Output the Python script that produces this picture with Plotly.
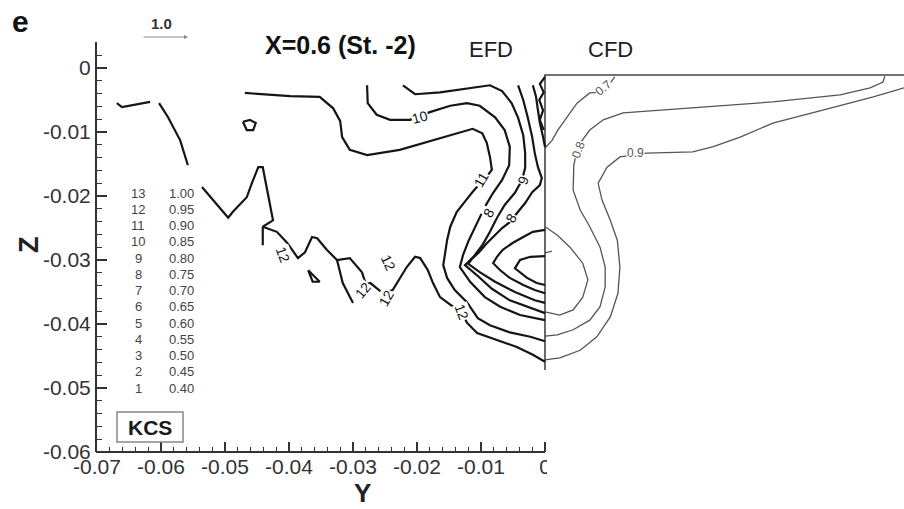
import plotly.graph_objects as go

# ---------------- data (Y, Z in metres) ----------------
# EFD contour polylines
efd_a_y = [-0.0669, -0.0661, -0.0617]
efd_a_z = [-0.0055, -0.0061, -0.0053]
efd_b_y = [-0.0603, -0.0589, -0.0570, -0.0558]
efd_b_z = [-0.0055, -0.0077, -0.0113, -0.0152]
efd_loop_y = [-0.0472, -0.0466, -0.0456, -0.0452, -0.0461, -0.0472]
efd_loop_z = [-0.0084, -0.0097, -0.0097, -0.0086, -0.0081, -0.0084]
efd_11_y = [-0.0469, -0.0398, -0.0352, -0.0331, -0.0320, -0.0317, -0.0305, -0.0278, -0.0227, -0.0175,
            -0.0113, -0.0098, -0.0091, -0.0086, -0.0083, -0.0089, -0.0111, -0.0123, -0.0138, -0.0148,
            -0.0153, -0.0156, -0.0159, -0.0153, -0.0141, -0.0122, -0.0114, -0.0105, -0.0086, -0.0055,
            -0.0023, 0.0]
efd_11_z = [-0.0039, -0.0044, -0.0045, -0.0063, -0.0083, -0.0108, -0.0128, -0.0136, -0.0128, -0.0113,
            -0.0095, -0.0102, -0.0117, -0.0139, -0.0159, -0.0167, -0.0191, -0.0206, -0.0225, -0.0248,
            -0.0269, -0.0289, -0.0308, -0.0328, -0.0347, -0.0366, -0.0378, -0.0391, -0.0402, -0.0413,
            -0.0420, -0.0427]
efd_10_y = [-0.0278, -0.0277, -0.0263, -0.0242, -0.0211, -0.0180, -0.0148, -0.0122, -0.0102, -0.0078,
            -0.0063, -0.0055, -0.0056, -0.0067, -0.0081, -0.0094, -0.0106, -0.0119, -0.0128, -0.0133,
            -0.0117, -0.0094, -0.0070, -0.0039, 0.0]
efd_10_z = [-0.0027, -0.0055, -0.0073, -0.0081, -0.0081, -0.0069, -0.0059, -0.0055, -0.0059, -0.0077,
            -0.0097, -0.0123, -0.0152, -0.0175, -0.0195, -0.0217, -0.0242, -0.0269, -0.0292, -0.0311,
            -0.0334, -0.0358, -0.0373, -0.0386, -0.0394]
efd_9_y = [-0.0222, -0.0203, -0.0164, -0.0128, -0.0086, -0.0067, -0.0052, -0.0042, -0.0034, -0.0031,
           -0.0031, -0.0036, -0.0047, -0.0063, -0.0075, -0.0086, -0.0098, -0.0111, -0.0125, -0.0105,
           -0.0083, -0.0055, -0.0023, 0.0]
efd_9_z = [-0.0027, -0.0041, -0.0038, -0.0033, -0.0027, -0.0036, -0.0055, -0.0078, -0.0105, -0.0133,
           -0.0156, -0.0175, -0.0195, -0.0214, -0.0234, -0.0256, -0.0277, -0.0294, -0.0308, -0.0325,
           -0.0345, -0.0363, -0.0375, -0.0383]
efd_8_y = [-0.0042, -0.0034, -0.0027, -0.0020, -0.0016, -0.0011, -0.0005, -0.0008, -0.0020, -0.0031,
           -0.0044, -0.0055, -0.0067, -0.0080, -0.0092, -0.0103, -0.0114, -0.0120, -0.0102, -0.0078,
           -0.0047, -0.0016, 0.0]
efd_8_z = [-0.0027, -0.0050, -0.0077, -0.0108, -0.0133, -0.0155, -0.0172, -0.0183, -0.0194, -0.0211,
           -0.0227, -0.0241, -0.0250, -0.0263, -0.0275, -0.0288, -0.0298, -0.0306, -0.0319, -0.0334,
           -0.0350, -0.0363, -0.0367]
efd_7_y = [-0.0019, -0.0014, -0.0011, -0.0008, -0.0003, 0.0]
efd_7_z = [-0.0027, -0.0045, -0.0066, -0.0086, -0.0108, -0.0123]
efd_wall_y = [0.0, -0.0008, -0.0002, -0.0009, -0.0003, -0.0008, -0.0002]
efd_wall_z = [-0.0014, -0.0025, -0.0038, -0.0050, -0.0066, -0.0081, -0.0097]
efd_core1_y = [0.0, -0.0019, -0.0034, -0.0050, -0.0066, -0.0075, -0.0081, -0.0070, -0.0055, -0.0034, -0.0016, 0.0]
efd_core1_z = [-0.0253, -0.0256, -0.0264, -0.0273, -0.0284, -0.0295, -0.0305, -0.0316, -0.0328, -0.0339, -0.0347, -0.0352]
efd_core2_y = [0.0, -0.0023, -0.0039, -0.0047, -0.0028, -0.0013, 0.0]
efd_core2_z = [-0.0294, -0.0295, -0.0300, -0.0313, -0.0328, -0.0336, -0.0339]
efd_12a_y = [-0.0536, -0.0495, -0.0488, -0.0466, -0.0458, -0.0448, -0.0441, -0.0433, -0.0425, -0.0441,
             -0.0419, -0.0403, -0.0386, -0.0375, -0.0364, -0.0356, -0.0341, -0.0325, -0.0305, -0.0286]
efd_12a_z = [-0.0186, -0.0234, -0.0225, -0.0202, -0.0180, -0.0155, -0.0155, -0.0195, -0.0238, -0.0248,
             -0.0256, -0.0273, -0.0297, -0.0288, -0.0264, -0.0266, -0.0284, -0.0300, -0.0297, -0.0319]
efd_12b_y = [-0.0286, -0.0280, -0.0273, -0.0253, -0.0238, -0.0227, -0.0216, -0.0203, -0.0195, -0.0183,
             -0.0175, -0.0164, -0.0152, -0.0141, -0.0130, -0.0122, -0.0106, -0.0075, -0.0044, -0.0019, 0.0]
efd_12b_z = [-0.0319, -0.0338, -0.0336, -0.0352, -0.0347, -0.0328, -0.0311, -0.0295, -0.0297, -0.0316,
             -0.0336, -0.0358, -0.0367, -0.0375, -0.0381, -0.0398, -0.0414, -0.0425, -0.0436, -0.0448, -0.0459]
efd_12c_y = [-0.0441, -0.0441]
efd_12c_z = [-0.0248, -0.0277]
efd_12d_y = [-0.0325, -0.0316, -0.0300]
efd_12d_z = [-0.0300, -0.0336, -0.0367]
efd_tri_y = [-0.0370, -0.0363, -0.0352, -0.0370]
efd_tri_z = [-0.0316, -0.0334, -0.0334, -0.0316]

# CFD contour polylines
cfd_07_y = [0.0109, 0.0097, 0.0086, 0.0070, 0.0050, 0.0034, 0.0020, 0.0011, 0.0003, 0.0]
cfd_07_z = [-0.0014, -0.0030, -0.0038, -0.0039, -0.0055, -0.0077, -0.0097, -0.0113, -0.0123, -0.0125]
cfd_08_y = [0.0531, 0.0528, 0.0508, 0.0461, 0.0356, 0.0253, 0.0175, 0.0122, 0.0091, 0.0070, 0.0055, 0.0050,
            0.0045, 0.0044, 0.0055, 0.0070, 0.0086, 0.0094, 0.0094, 0.0086, 0.0070, 0.0044, 0.0019, 0.0]
cfd_08_z = [-0.0013, -0.0022, -0.0031, -0.0042, -0.0053, -0.0061, -0.0066, -0.0070, -0.0081, -0.0097, -0.0117,
            -0.0128, -0.0152, -0.0191, -0.0222, -0.0248, -0.0280, -0.0311, -0.0342, -0.0373, -0.0394, -0.0409,
            -0.0417, -0.0419]
cfd_09_y = [0.0561, 0.0513, 0.0434, 0.0356, 0.0305, 0.0263, 0.0231, 0.0159, 0.0117, 0.0097, 0.0083, 0.0089,
            0.0102, 0.0113, 0.0117, 0.0114, 0.0102, 0.0081, 0.0055, 0.0023, 0.0]
cfd_09_z = [-0.0031, -0.0045, -0.0066, -0.0086, -0.0108, -0.0123, -0.0131, -0.0133, -0.0139, -0.0155, -0.0180,
            -0.0206, -0.0238, -0.0269, -0.0311, -0.0352, -0.0389, -0.0420, -0.0441, -0.0453, -0.0456]
cfd_core_y = [0.0, 0.0019, 0.0039, 0.0059, 0.0067, 0.0059, 0.0044, 0.0023, 0.0]
cfd_core_z = [-0.0248, -0.0261, -0.0280, -0.0305, -0.0331, -0.0358, -0.0378, -0.0386, -0.0381]
cfd_tick_y = [0.0, 0.0011]
cfd_tick_z = [-0.0289, -0.0286]
cfd_frame_y = [0.06, 0.0, 0.0]
cfd_frame_z = [-0.0011, -0.0011, -0.0472]

# contour labels: text, Y, Z, angle
efd_labels = [("10", -0.0195, -0.0077, -15), ("11", -0.0100, -0.0175, -60), ("9", -0.0034, -0.0175, -70),
              ("8", -0.0088, -0.0227, -60), ("8", -0.0053, -0.0234, -60), ("12", -0.0409, -0.0292, 70),
              ("12", -0.0245, -0.0305, 65), ("12", -0.0284, -0.0347, -50), ("12", -0.0248, -0.0359, -60),
              ("12", -0.0130, -0.0381, 70)]
cfd_labels = [("0.7", 0.0091, -0.0031, -40), ("0.8", 0.0052, -0.0128, -70), ("0.9", 0.0142, -0.0133, 0)]

# level table
level_ids = [13, 12, 11, 10, 9, 8, 7, 6, 5, 4, 3, 2, 1]
level_vals = ["1.00", "0.95", "0.90", "0.85", "0.80", "0.75", "0.70", "0.65", "0.60", "0.55", "0.50", "0.45", "0.40"]

x_ticks = [-0.07, -0.06, -0.05, -0.04, -0.03, -0.02, -0.01, 0.0]
x_tick_text = ["-0.07", "-0.06", "-0.05", "-0.04", "-0.03", "-0.02", "-0.01", "0"]
y_ticks = [0.0, -0.01, -0.02, -0.03, -0.04, -0.05, -0.06]
y_tick_text = ["0", "-0.01", "-0.02", "-0.03", "-0.04", "-0.05", "-0.06"]

# ---------------- layout geometry ----------------
W, H = 904, 509
ML, MB = 97, 57
PW, PH = W - ML, H - MB
X_RANGE = [-0.07, -0.07 + PW / 6400]
Y_RANGE = [-0.06, -0.06 + 410 / 6400]
FONT = "Liberation Sans, Arial, sans-serif"


def px(x):
    return (x - ML) / PW


def py(y):
    return (PH - y) / PH


def ptext(x, y, text, size, color, angle=0):
    return dict(x=px(x), y=py(y), xref="paper", yref="paper", text=text, showarrow=False,
                xanchor="center", yanchor="middle", textangle=angle,
                font=dict(family=FONT, size=size, color=color))


fig = go.Figure()

efd_lines = [(efd_a_y, efd_a_z), (efd_b_y, efd_b_z), (efd_loop_y, efd_loop_z), (efd_11_y, efd_11_z),
             (efd_10_y, efd_10_z), (efd_9_y, efd_9_z), (efd_8_y, efd_8_z), (efd_7_y, efd_7_z),
             (efd_wall_y, efd_wall_z), (efd_core1_y, efd_core1_z), (efd_core2_y, efd_core2_z),
             (efd_12a_y, efd_12a_z), (efd_12b_y, efd_12b_z), (efd_12c_y, efd_12c_z),
             (efd_12d_y, efd_12d_z), (efd_tri_y, efd_tri_z)]
cfd_lines = [(cfd_07_y, cfd_07_z), (cfd_08_y, cfd_08_z), (cfd_09_y, cfd_09_z),
             (cfd_core_y, cfd_core_z), (cfd_tick_y, cfd_tick_z)]

for yv, zv in cfd_lines:
    fig.add_trace(go.Scatter(x=yv, y=zv, mode="lines", line=dict(color="#555555", width=1.3),
                             hoverinfo="skip", showlegend=False))
fig.add_trace(go.Scatter(x=cfd_frame_y, y=cfd_frame_z, mode="lines", line=dict(color="#444444", width=1.6),
                         hoverinfo="skip", showlegend=False))
for yv, zv in efd_lines:
    fig.add_trace(go.Scatter(x=yv, y=zv, mode="lines", line=dict(color="#151515", width=2.2),
                             hoverinfo="skip", showlegend=False))

ann = []
for t, yv, zv, a in efd_labels:
    ann.append(dict(x=yv, y=zv, xref="x", yref="y", text=t, showarrow=False, textangle=a,
                    xanchor="center", yanchor="middle",
                    font=dict(family=FONT, size=14, color="#151515"), bgcolor="white", borderpad=0))
for t, yv, zv, a in cfd_labels:
    ann.append(dict(x=yv, y=zv, xref="x", yref="y", text=t, showarrow=False, textangle=a,
                    xanchor="center", yanchor="middle",
                    font=dict(family=FONT, size=12, color="#555555"), bgcolor="white", borderpad=0))

for i, (lid, lv) in enumerate(zip(level_ids, level_vals)):
    yy = 193 + i * 16.25
    ann.append(ptext(138, yy, str(lid), 13, "#444444"))
    ann.append(ptext(181, yy, lv, 13, "#444444"))

ann += [
    ptext(150, 427, "<b>KCS</b>", 21, "#1a1a1a"),
    ptext(20, 21, "<b>e</b>", 30, "#111111"),
    ptext(161, 23, "<b>1.0</b>", 15, "#333333"),
    dict(x=px(188), y=py(37), xref="paper", yref="paper", ax=-46, ay=0, axref="pixel", ayref="pixel",
         text="", showarrow=True, arrowhead=2, arrowsize=0.8, arrowwidth=1, arrowcolor="#888888"),
    ptext(340, 45, "<b>X=0.6 (St. -2)</b>", 25, "#111111"),
    ptext(491, 50, "EFD", 22, "#1c1c2c"),
    ptext(610, 50, "CFD", 22, "#1c1c2c"),
    ptext(29, 245, "<b>Z</b>", 27, "#222222", -90),
    ptext(362, 493, "<b>Y</b>", 26, "#222222"),
]

shapes = [
    dict(type="line", xref="paper", yref="paper", x0=px(96), x1=px(545), y0=0, y1=0,
         line=dict(color="#333333", width=2)),
    dict(type="rect", xref="paper", yref="paper", x0=px(117), x1=px(183), y0=py(442), y1=py(412),
         line=dict(color="#888888", width=1.5)),
    dict(type="rect", xref="paper", yref="paper", x0=px(547), x1=px(566), y0=py(482), y1=py(455),
         line=dict(width=0), fillcolor="white", layer="above"),
]

x_minor = [round(-0.07 + 0.002 * i, 4) for i in range(36) if i % 5]
y_minor = [round(-0.06 + 0.002 * i, 4) for i in range(33) if i % 5]

fig.update_layout(
    width=W, height=H, margin=dict(l=ML, r=0, t=0, b=MB),
    paper_bgcolor="white", plot_bgcolor="white",
    annotations=ann, shapes=shapes, showlegend=False,
    xaxis=dict(range=X_RANGE, showgrid=False, zeroline=False, showline=False,
               ticks="inside", ticklen=10, tickwidth=2, tickcolor="#333333",
               tickmode="array", tickvals=x_ticks, ticktext=x_tick_text,
               tickfont=dict(family=FONT, size=21, color="#333333"),
               minor=dict(tickmode="array", tickvals=x_minor, ticks="inside", ticklen=5,
                          tickwidth=1.3, tickcolor="#333333")),
    yaxis=dict(range=Y_RANGE, domain=[0, 410 / PH], showgrid=False, zeroline=False,
               showline=True, linewidth=2, linecolor="#333333",
               ticks="inside", ticklen=10, tickwidth=2, tickcolor="#333333",
               tickmode="array", tickvals=y_ticks, ticktext=y_tick_text,
               tickfont=dict(family=FONT, size=21, color="#333333"),
               minor=dict(tickmode="array", tickvals=y_minor, ticks="inside", ticklen=5,
                          tickwidth=1.3, tickcolor="#333333")),
)

fig.write_html("out.html")
